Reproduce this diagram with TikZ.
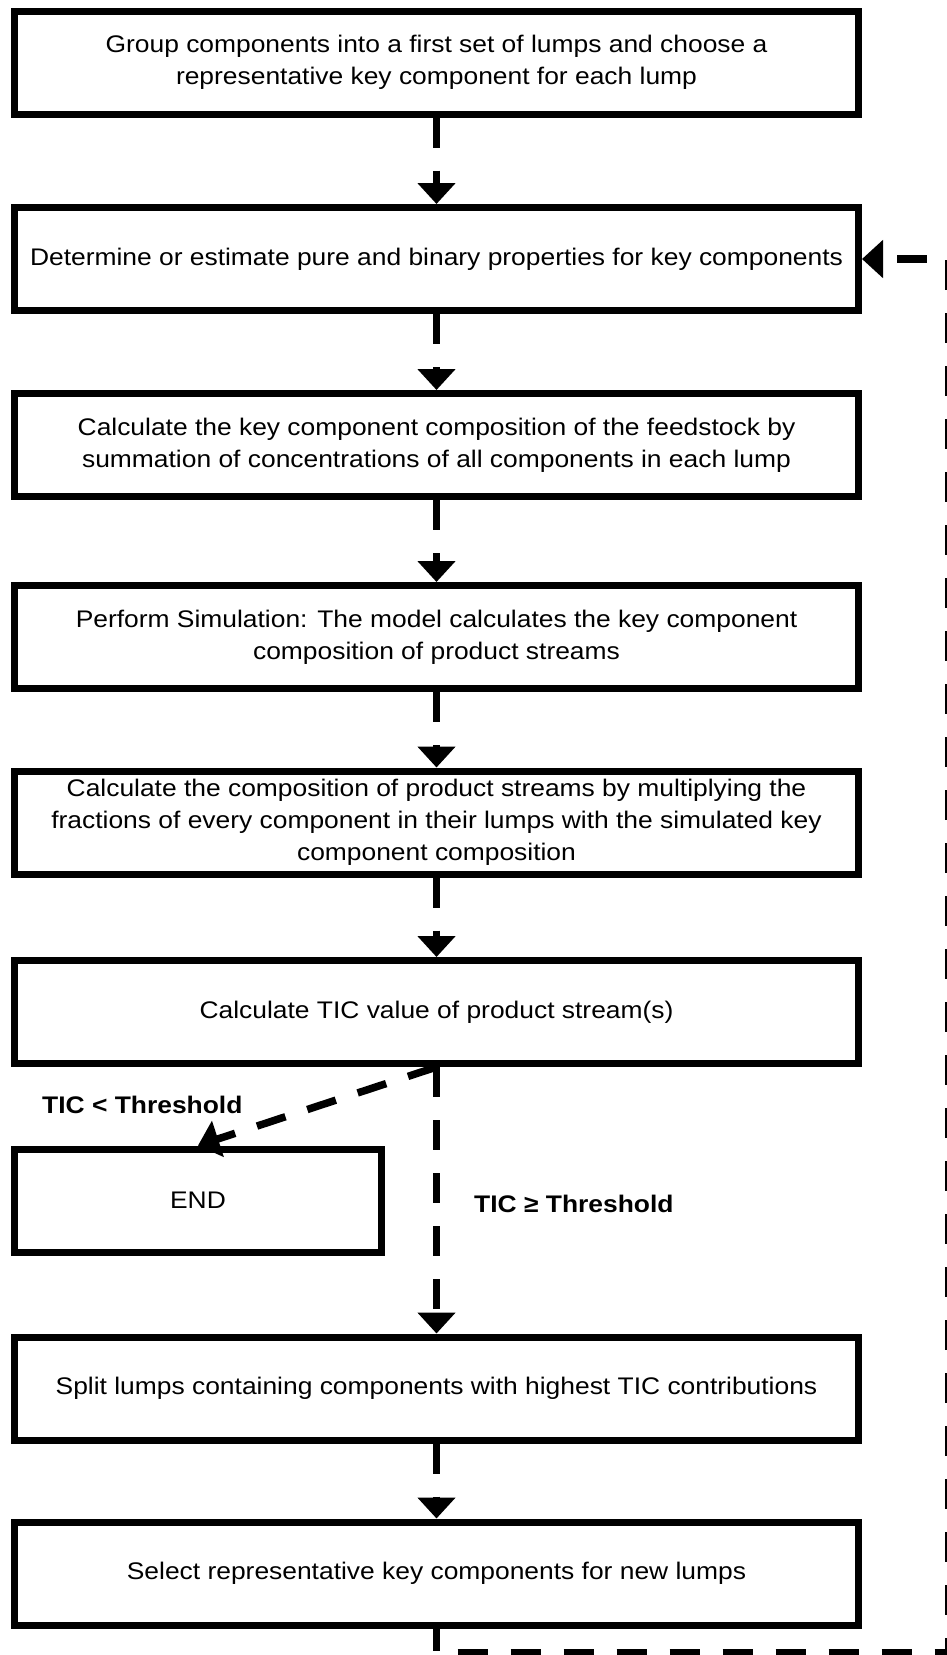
\documentclass[tikz,border=0pt]{standalone}
\usepackage{fontspec}
\setmainfont{Liberation Sans}[FakeStretch=1.1]
\usetikzlibrary{arrows.meta}
\begin{document}
\begin{tikzpicture}[x=1pt,y=-1pt,
  stepbox/.style={draw, line width=7pt, minimum width=844pt, minimum height=103pt,
    inner sep=0pt, align=center, font=\fontsize{24}{32}\selectfont},
  endbox/.style={stepbox, minimum width=367pt},
  conn/.style={line width=7.5pt, dash pattern=on 30pt off 23pt,
    -{Triangle[width=37pt,length=21pt]}},
  loopline/.style={conn, dash phase=7.5pt},
  cond/.style={font=\fontsize{24}{28}\selectfont\bfseries, inner sep=0pt, anchor=base west}]

% page frame
\fill[white] (0,0) rectangle (947,1655);
\useasboundingbox (0,0) rectangle (947,1655);

% process steps
\node[stepbox] (s1) at (436.5,62.5)
  {Group components into a first set of lumps and choose a\\representative key component for each lump};
\node[stepbox] (s2) at (436.5,259)
  {Determine or estimate pure and binary properties for key components};
\node[stepbox] (s3) at (436.5,445)
  {Calculate the key component composition of the feedstock by\\summation of concentrations of all components in each lump};
\node[stepbox] (s4) at (436.5,637)
  {Perform Simulation: The model calculates the key component\\composition of product streams};
\node[stepbox] (s5) at (436.5,822.5)
  {Calculate the composition of product streams by multiplying the\\fractions of every component in their lumps with the simulated key\\component composition};
\node[stepbox] (s6) at (436.5,1012)
  {Calculate TIC value of product stream(s)};
\node[endbox] (fin) at (198,1200.5) {END};
\node[stepbox] (s8) at (436.5,1388.5)
  {Split lumps containing components with highest TIC contributions};
\node[stepbox] (s9) at (436.5,1573.5)
  {Select representative key components for new lumps};

% branch conditions
\node[cond] (lt) at (42,1113) {TIC < Threshold};
\node[cond] (ge) at (474,1212) {TIC ≥ Threshold};

% main flow
\draw[conn] (s1.south) -- (s2.north);
\draw[conn] (s2.south) -- (s3.north);
\draw[conn] (s3.south) -- (s4.north);
\draw[conn] (s4.south) -- (s5.north);
\draw[conn] (s5.south) -- (s6.north);
\draw[conn] (s6.south) -- (fin.north);
\draw[conn] (s6.south) -- (s8.north);
\draw[conn] (s8.south) -- (s9.north);

% iteration loop back to the property step
\coordinate (c1) at (436.5,1653);
\coordinate (c2) at (949,1653);
\coordinate (c3) at (949,259);
\draw[loopline] (s9.south) -- (c1) -- (c2) -- (c3) -- (s2.east);
\end{tikzpicture}
\end{document}
